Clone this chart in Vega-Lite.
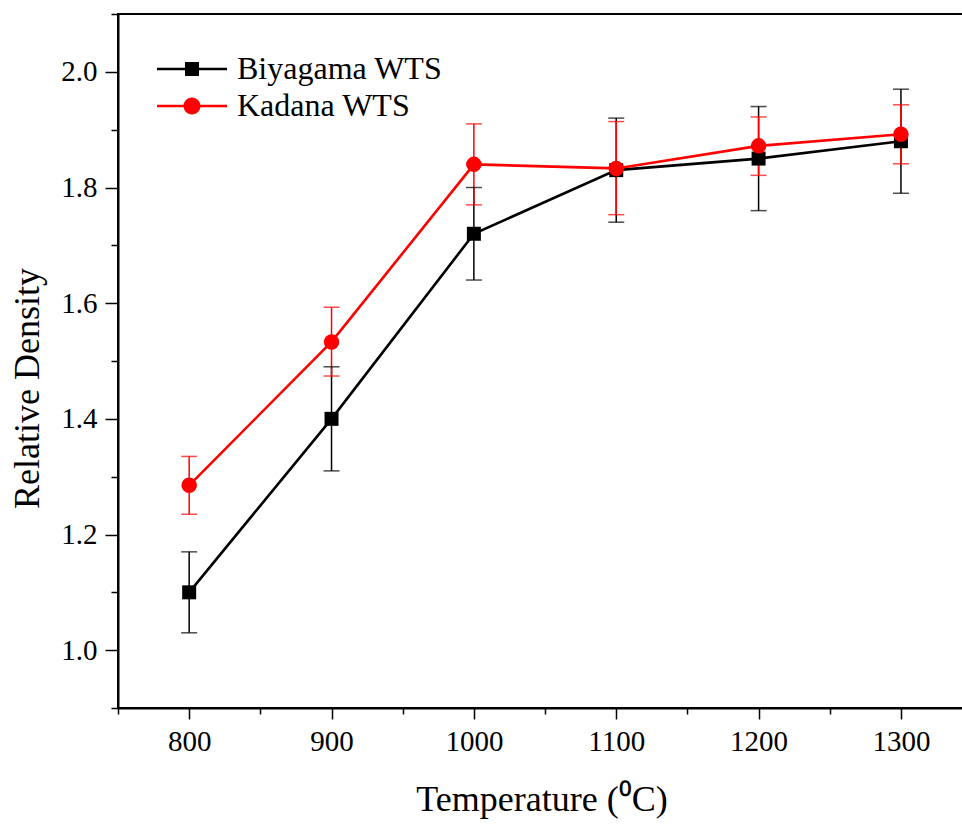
{
  "$schema": "https://vega.github.io/schema/vega-lite/v6.json",
  "width": 847,
  "height": 694,
  "padding": {"top": 13, "left": 9, "right": 0, "bottom": 5},
  "background": "white",
  "config": {
    "view": {"stroke": "black", "strokeWidth": 2},
    "font": "Liberation Serif",
    "axis": {
      "grid": false,
      "domainColor": "black",
      "domainWidth": 2,
      "tickColor": "black",
      "tickWidth": 1.5,
      "labelColor": "black",
      "labelFont": "Liberation Serif",
      "labelFontSize": 29,
      "titleFont": "Liberation Serif",
      "titleFontSize": 36,
      "titleFontWeight": "normal",
      "titleColor": "black"
    }
  },
  "data": {
    "values": [
      {"series": "Biyagama WTS", "temp": 800, "density": 1.10, "lower": 1.03, "upper": 1.17},
      {"series": "Biyagama WTS", "temp": 900, "density": 1.40, "lower": 1.31, "upper": 1.49},
      {"series": "Biyagama WTS", "temp": 1000, "density": 1.72, "lower": 1.64, "upper": 1.80},
      {"series": "Biyagama WTS", "temp": 1100, "density": 1.83, "lower": 1.74, "upper": 1.92},
      {"series": "Biyagama WTS", "temp": 1200, "density": 1.85, "lower": 1.76, "upper": 1.94},
      {"series": "Biyagama WTS", "temp": 1300, "density": 1.88, "lower": 1.79, "upper": 1.97},
      {"series": "Kadana WTS", "temp": 800, "density": 1.285, "lower": 1.235, "upper": 1.335},
      {"series": "Kadana WTS", "temp": 900, "density": 1.533, "lower": 1.474, "upper": 1.593},
      {"series": "Kadana WTS", "temp": 1000, "density": 1.84, "lower": 1.77, "upper": 1.91},
      {"series": "Kadana WTS", "temp": 1100, "density": 1.833, "lower": 1.753, "upper": 1.914},
      {"series": "Kadana WTS", "temp": 1200, "density": 1.872, "lower": 1.821, "upper": 1.922},
      {"series": "Kadana WTS", "temp": 1300, "density": 1.892, "lower": 1.841, "upper": 1.943}
    ]
  },
  "encoding": {
    "x": {
      "field": "temp",
      "type": "quantitative",
      "scale": {"domain": [750, 1345], "nice": false, "zero": false},
      "axis": {
        "title": "Temperature (⁰C)",
        "values": [750, 800, 850, 900, 950, 1000, 1050, 1100, 1150, 1200, 1250, 1300],
        "labelExpr": "datum.value % 100 === 0 ? datum.label : ''",
        "format": "d",
        "tickSize": {"condition": {"test": "datum.value % 100 === 0", "value": 11}, "value": 6},
        "labelPadding": 8,
        "titlePadding": 26
      }
    },
    "y": {
      "field": "density",
      "type": "quantitative",
      "scale": {"domain": [0.9, 2.1], "nice": false, "zero": false},
      "axis": {
        "title": "Relative Density",
        "values": [0.9, 1.0, 1.1, 1.2, 1.3, 1.4, 1.5, 1.6, 1.7, 1.8, 1.9, 2.0, 2.1],
        "format": ".1f",
        "labelExpr": "round(datum.value * 10) % 2 === 0 && datum.value > 0.95 && datum.value < 2.05 ? datum.label : ''",
        "tickSize": {"condition": {"test": "round(datum.value * 10) % 2 === 0", "value": 13}, "value": 7},
        "labelPadding": 8,
        "titlePadding": 14,
        "titleY": 374
      }
    },
    "color": {
      "field": "series",
      "type": "nominal",
      "scale": {"domain": ["Biyagama WTS", "Kadana WTS"], "range": ["#000000", "#ff0000"]},
      "legend": {
        "title": null,
        "orient": "none",
        "legendX": 58,
        "legendY": 39,
        "padding": 0,
        "symbolSize": 400,
        "labelFont": "Liberation Serif",
        "labelFontSize": 32,
        "labelLimit": 500,
        "labelColor": "black",
        "labelOffset": 29,
        "rowPadding": 5,
        "encode": {
          "symbols": {
            "update": {
              "shape": {"signal": "datum.value === 'Biyagama WTS' ? 'M-3.5,-0.13H3.5V0.13H-3.5Z M-0.7,-0.7H0.7V0.7H-0.7Z' : 'M-3.5,-0.13H3.5V0.13H-3.5Z M-0.85,0A0.85,0.85 0 1,1 0.85,0A0.85,0.85 0 1,1 -0.85,0Z'"},
              "fill": {"signal": "datum.value === 'Biyagama WTS' ? '#000000' : '#ff0000'"},
              "stroke": {"value": "transparent"},
              "strokeWidth": {"value": 0},
              "opacity": {"value": 1}
            }
          }
        }
      }
    }
  },
  "layer": [
    {
      "mark": {"type": "rule", "strokeWidth": 1.5},
      "encoding": {
        "y": {"field": "lower", "type": "quantitative"},
        "y2": {"field": "upper"}
      }
    },
    {
      "mark": {"type": "tick", "orient": "horizontal", "size": 16, "thickness": 1.5},
      "encoding": {
        "y": {"field": "lower", "type": "quantitative"}
      }
    },
    {
      "mark": {"type": "tick", "orient": "horizontal", "size": 16, "thickness": 1.5},
      "encoding": {
        "y": {"field": "upper", "type": "quantitative"}
      }
    },
    {
      "mark": {"type": "line", "strokeWidth": 2.6},
      "encoding": {}
    },
    {
      "transform": [{"filter": "datum.series === 'Biyagama WTS'"}],
      "mark": {"type": "point", "shape": "square", "filled": true, "opacity": 1, "size": 196},
      "encoding": {}
    },
    {
      "transform": [{"filter": "datum.series === 'Kadana WTS'"}],
      "mark": {"type": "point", "shape": "circle", "filled": true, "opacity": 1, "size": 240},
      "encoding": {}
    }
  ]
}
